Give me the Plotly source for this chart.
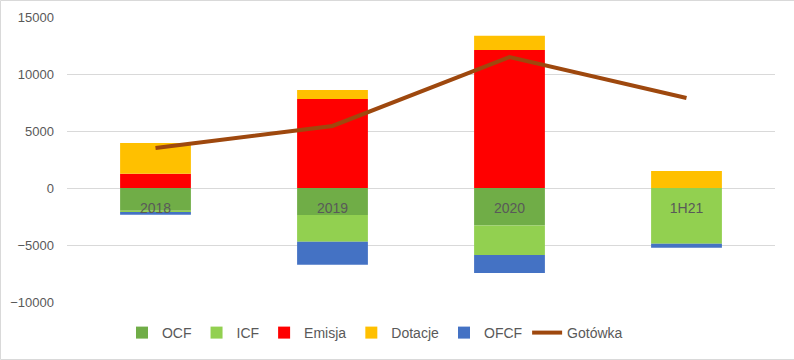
import plotly.graph_objects as go

categories = ["2018", "2019", "2020", "1H21"]
ocf = [-1990, -2370, -3300, 0]
icf = [-110, -2340, -2580, -4890]
emisja = [1250, 7800, 12100, 0]
dotacje = [2700, 800, 1260, 1490]
ofcf = [-240, -2020, -1580, -350]
gotowka = [3500, 5440, 11490, 7900]

colors = {
    "OCF": "#70AD47",
    "ICF": "#92D050",
    "Emisja": "#FF0000",
    "Dotacje": "#FFC000",
    "OFCF": "#4472C4",
    "Gotówka": "#9E480E",
}

fig = go.Figure()
for name, vals in [("OCF", ocf), ("ICF", icf), ("Emisja", emisja),
                   ("Dotacje", dotacje), ("OFCF", ofcf)]:
    fig.add_trace(go.Bar(x=categories, y=vals, name=name, width=0.4,
                         marker=dict(color=colors[name], line=dict(width=0)),
                         hoverinfo="skip"))
fig.add_trace(go.Scatter(x=categories, y=gotowka, name="Gotówka", mode="lines",
                         line=dict(color=colors["Gotówka"], width=4),
                         hoverinfo="skip"))

font_color = "#595959"
fig.update_layout(
    width=794, height=360,
    barmode="relative",
    paper_bgcolor="white", plot_bgcolor="white",
    margin=dict(l=67, r=19, t=17, b=58, autoexpand=False),
    font=dict(family="Liberation Sans, Arial, sans-serif", size=13, color=font_color),
    showlegend=True,
    legend=dict(orientation="h", x=0.435, xanchor="center", y=-31 / 285, yanchor="middle",
                font=dict(size=14, color=font_color), traceorder="normal",
                itemwidth=30, bgcolor="rgba(0,0,0,0)"),
    xaxis=dict(type="category", anchor="free", position=0.4, showline=False,
               showgrid=False, ticks="", tickfont=dict(size=14, color=font_color),
               ticklabelstandoff=10),
    yaxis=dict(range=[-10000, 15000], dtick=5000, showgrid=True,
               gridcolor="#D9D9D9", gridwidth=1, zeroline=True,
               zerolinecolor="#D9D9D9", zerolinewidth=1, showline=False,
               ticks="", tickfont=dict(size=13, color=font_color),
               ticklabelstandoff=12, tickformat="d"),
    shapes=[dict(type="rect", xref="paper", yref="paper",
                 x0=-66.5 / 708, x1=774.5 / 708, y0=-57.5 / 285, y1=301.5 / 285,
                 line=dict(color="#D9D9D9", width=1), fillcolor="rgba(0,0,0,0)",
                 layer="below")],
)
fig.write_html("out.html", config={"displayModeBar": False, "staticPlot": True},
               post_script="document.body.style.margin='0';document.body.style.overflow='hidden';")
